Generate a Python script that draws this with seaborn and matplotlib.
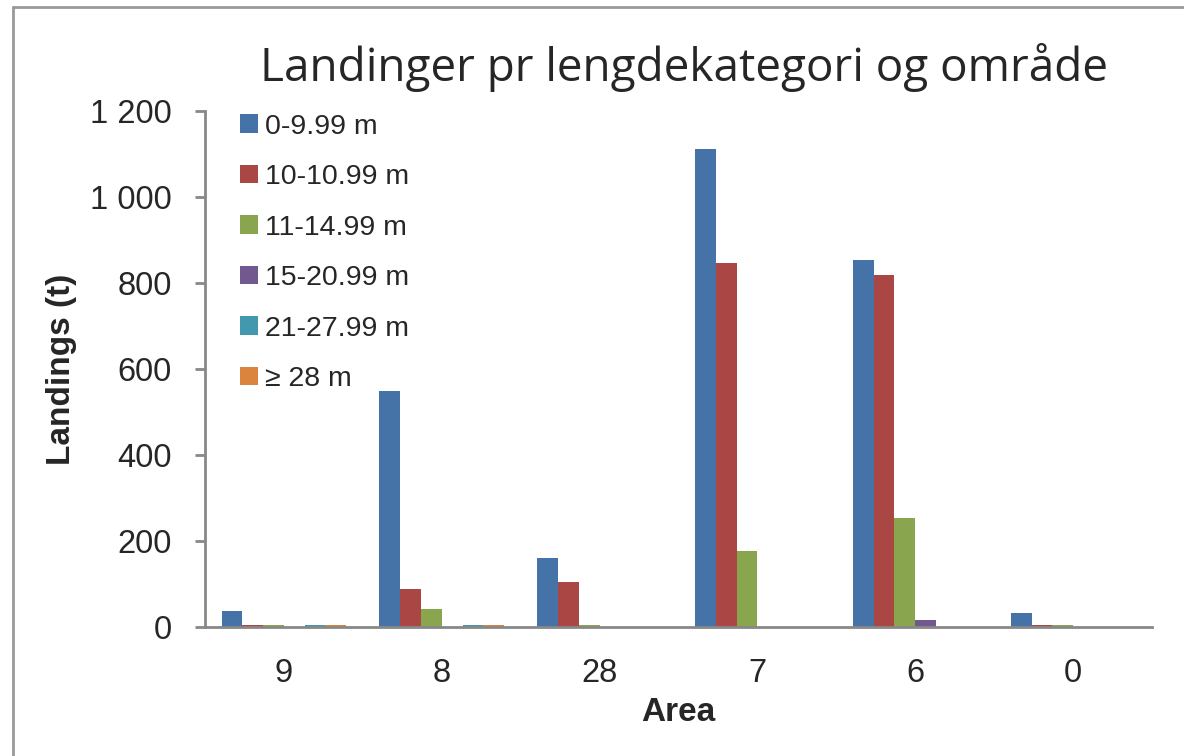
import pandas as pd
import numpy as np
import matplotlib
matplotlib.use("Agg")
import matplotlib.pyplot as plt
import seaborn as sns
from matplotlib.lines import Line2D
from matplotlib.ticker import FuncFormatter, FixedLocator

# data
areas = ["9", "8", "28", "7", "6", "0"]
categories = ["0-9.99 m", "10-10.99 m", "11-14.99 m", "15-20.99 m", "21-27.99 m", "\u2265 28 m"]
len_0_10 = [38, 549, 160, 1112, 853, 33]
len_10_11 = [4, 88, 105, 847, 819, 4]
len_11_15 = [4, 43, 4, 177, 253, 4]
len_15_21 = [0, 0, 0, 0, 16, 0]
len_21_28 = [4, 4, 0, 0, 0, 0]
len_28_up = [4, 4, 0, 0, 0, 0]
colors = ["#4572A7", "#AA4643", "#89A54E", "#71588F", "#4198AF", "#DB843D"]

series = [len_0_10, len_10_11, len_11_15, len_15_21, len_21_28, len_28_up]
rows = []
for cat, vals in zip(categories, series):
    for a, v in zip(areas, vals):
        rows.append({"Area": a, "Kategori": cat, "Landings": v})
df = pd.DataFrame(rows)

sns.set_style("white")
plt.rcParams["font.family"] = ["Liberation Sans", "DejaVu Sans"]

fig = plt.figure(figsize=(11.84, 7.56), dpi=100)
ax = fig.add_axes([205 / 1184, 1 - 627 / 756, (1152 - 205) / 1184, (627 - 111) / 756])

sns.barplot(data=df, x="Area", y="Landings", hue="Kategori", order=areas,
            hue_order=categories, palette=colors, saturation=1, width=0.79,
            linewidth=0, ax=ax, legend=True)

ax.set_ylim(0, 1200)
ax.set_xlim(-0.5, 5.5)
ax.set_yticks(np.arange(0, 1201, 200))
ax.yaxis.set_major_formatter(FuncFormatter(lambda v, p: f"{int(v):,}".replace(",", " ")))

# tick marks between categories
ax.xaxis.set_minor_locator(FixedLocator(np.arange(-0.5, 6, 1)))
ax.tick_params(axis="x", which="major", length=0, labelsize=23.5, pad=22)
ax.tick_params(axis="x", which="minor", length=7, width=2, color="#888888", direction="out")
ax.tick_params(axis="y", which="major", length=7, width=2, color="#888888", labelsize=23.5, pad=17,
               direction="out", left=True)

for side in ["top", "right"]:
    ax.spines[side].set_visible(False)
for side in ["left", "bottom"]:
    ax.spines[side].set_color("#888888")
    ax.spines[side].set_linewidth(2)

ax.set_xlabel("Area", fontsize=24, fontweight="bold", labelpad=6)
ax.set_ylabel("Landings (t)", fontsize=24, fontweight="bold", labelpad=9)

fig.text(684 / 1184, 1 - 67 / 756, "Landinger pr lengdekategori og omr\u00e5de",
         fontsize=33, family=["Open Sans", "DejaVu Sans"], ha="center", va="center")

ax.legend(loc="upper left", bbox_to_anchor=((229 - 205) / 947, 1.017), frameon=False,
          fontsize=20.5, handlelength=0.63, handleheight=0.63, handletextpad=0.22,
          labelspacing=0.86, borderaxespad=0)

# figure border (left and top edges visible)
fig.add_artist(Line2D([12.5 / 1184, 12.5 / 1184], [0, 1 - 6.5 / 756], transform=fig.transFigure,
                      color="#999999", linewidth=2))
fig.add_artist(Line2D([12.5 / 1184, 1], [1 - 6.5 / 756, 1 - 6.5 / 756], transform=fig.transFigure,
                      color="#999999", linewidth=2))

fig.savefig("out.png", dpi=100)
